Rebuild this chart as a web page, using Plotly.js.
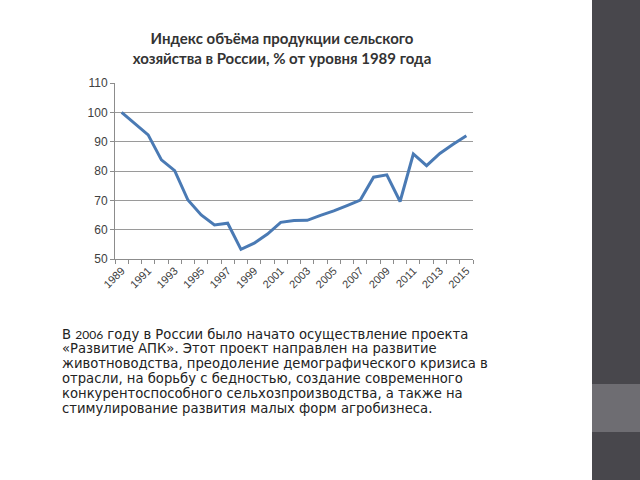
<!DOCTYPE html>
<html>
<head>
<meta charset="utf-8">
<script src="https://cdn.plot.ly/plotly-3.0.1.min.js"></script>
<style>
html,body{margin:0;padding:0;background:#fff;}
#chart{width:640px;height:480px;}
</style>
</head>
<body>
<div id="chart"></div>
<script>
var years = [1989,1990,1991,1992,1993,1994,1995,1996,1997,1998,1999,2000,2001,2002,2003,2004,2005,2006,2007,2008,2009,2010,2011,2012,2013,2014,2015];
var index = [100,96.3,92.3,83.8,80.1,70.1,65,61.6,62.2,53.3,55.4,58.5,62.5,63.1,63.2,64.9,66.4,68.2,70.1,77.9,78.7,69.6,85.8,81.8,86,89.1,92];
var tickYears = [1989,1991,1993,1995,1997,1999,2001,2003,2005,2007,2009,2011,2013,2015];
var boundaries = [];
for (var i = 0; i <= years.length; i++) { boundaries.push(years[0] - 0.5 + i); }
var yTicks = [50,60,70,80,90,100,110];

var titleText = 'Индекс объёма продукции сельского<br>хозяйства в России, % от уровня 1989 года';
var bodyLines = [
  'В <span style="font-family:Lato,sans-serif;font-size:12px">2006</span> году в России было начато осуществление проекта',
  '«Развитие АПК». Этот проект направлен на развитие',
  'животноводства, преодоление демографического кризиса в',
  'отрасли, на борьбу с бедностью, создание современного',
  'конкурентоспособного сельхозпроизводства, а также на',
  'стимулирование развития малых форм агробизнеса.'
];

var L = 115, R = 473, T = 83, B = 259;
function px(x){ return (x - L) / (R - L); }
function py(y){ return (B - y) / (B - T); }

var trace = {
  x: years, y: index, type: 'scatter', mode: 'lines',
  line: {color: '#4a7ab4', width: 3},
  hoverinfo: 'x+y'
};

var annotations = bodyLines.map(function(t, k){
  return {xref: 'paper', yref: 'paper', x: px(61), y: py(334 + k*14.8), xanchor: 'left', yanchor: 'middle',
    align: 'left', showarrow: false, text: t, borderpad: 0,
    font: {family: '"DejaVu Sans", sans-serif', size: 13.2, color: '#222222'}};
});

var layout = {
  width: 640, height: 480,
  margin: {l: L, r: 640 - R, t: T, b: 480 - B, pad: 0},
  paper_bgcolor: '#ffffff', plot_bgcolor: '#ffffff',
  showlegend: false,
  title: {
    text: titleText,
    font: {family: 'Lato, "Open Sans", sans-serif', size: 15, color: '#333333', weight: 'bold'},
    x: 282/640, xanchor: 'center', xref: 'container',
    y: 1 - 44/480, yanchor: 'middle', yref: 'container'
  },
  xaxis: {
    type: 'linear',
    range: [years[0] - 0.5, years[years.length-1] + 0.5],
    tickmode: 'array', tickvals: tickYears, ticktext: tickYears.map(String),
    tickangle: -45,
    ticks: '', showgrid: false, zeroline: false,
    showline: true, linecolor: '#8c8c8c', linewidth: 1,
    tickfont: {family: '"Liberation Sans", Arial, sans-serif', size: 11, color: '#404040'},
    minor: {tickmode: 'array', tickvals: boundaries, ticks: 'outside', ticklen: 4, tickcolor: '#8c8c8c', showgrid: false}
  },
  yaxis: {
    range: [50, 110], tickmode: 'array', tickvals: yTicks,
    showgrid: true, gridcolor: '#9a9a9a', gridwidth: 1,
    zeroline: false, showline: true, linecolor: '#8c8c8c', linewidth: 1,
    ticks: 'outside', ticklen: 4, tickcolor: '#8c8c8c',
    tickfont: {family: '"Liberation Sans", Arial, sans-serif', size: 12, color: '#404040'}
  },
  shapes: [
    {type: 'rect', xref: 'paper', yref: 'paper', x0: px(592), x1: px(640), y0: py(480), y1: py(0),
     fillcolor: '#48474c', line: {width: 0}, layer: 'above'},
    {type: 'rect', xref: 'paper', yref: 'paper', x0: px(592), x1: px(640), y0: py(432), y1: py(384),
     fillcolor: '#6e6d72', line: {width: 0}, layer: 'above'}
  ],
  annotations: annotations
};

Plotly.newPlot('chart', [trace], layout, {displayModeBar: false, staticPlot: true});
</script>
</body>
</html>
